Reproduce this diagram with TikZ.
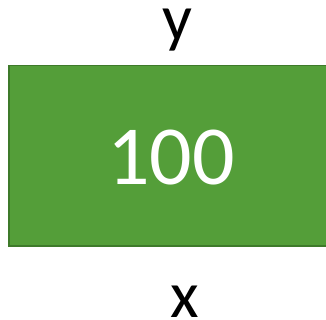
\documentclass[tikz,border=0pt]{standalone}
\usepackage{fontspec}
\setmainfont{Carlito}
\usetikzlibrary{positioning}
\definecolor{cellFill}{HTML}{549E39}
\definecolor{cellEdge}{HTML}{3E7A2A}
\tikzset{
  cell/.style={
    draw=cellEdge, line width=1.5pt, fill=cellFill, anchor=north west,
    minimum width=340pt, minimum height=180pt, inner sep=0pt},
  cellvalue/.style={text=white, font=\fontsize{84}{84}\selectfont, inner sep=0pt},
  axislabel/.style={font=\fontsize{66}{66}\selectfont, inner sep=0pt, anchor=base},
}
\begin{document}
\begin{tikzpicture}[x=1pt,y=-1pt]
\useasboundingbox (0,0) rectangle (326,320);

% ---- the cell
\node[cell] (CELL) at (8,65) {};
\node[cellvalue] (VAL) at (171,157.5) {100};

% ---- axis names
\node[axislabel] (Y) at (177,41) {y};
\node[axislabel] (X) at (185,317) {x};

\end{tikzpicture}
\end{document}
